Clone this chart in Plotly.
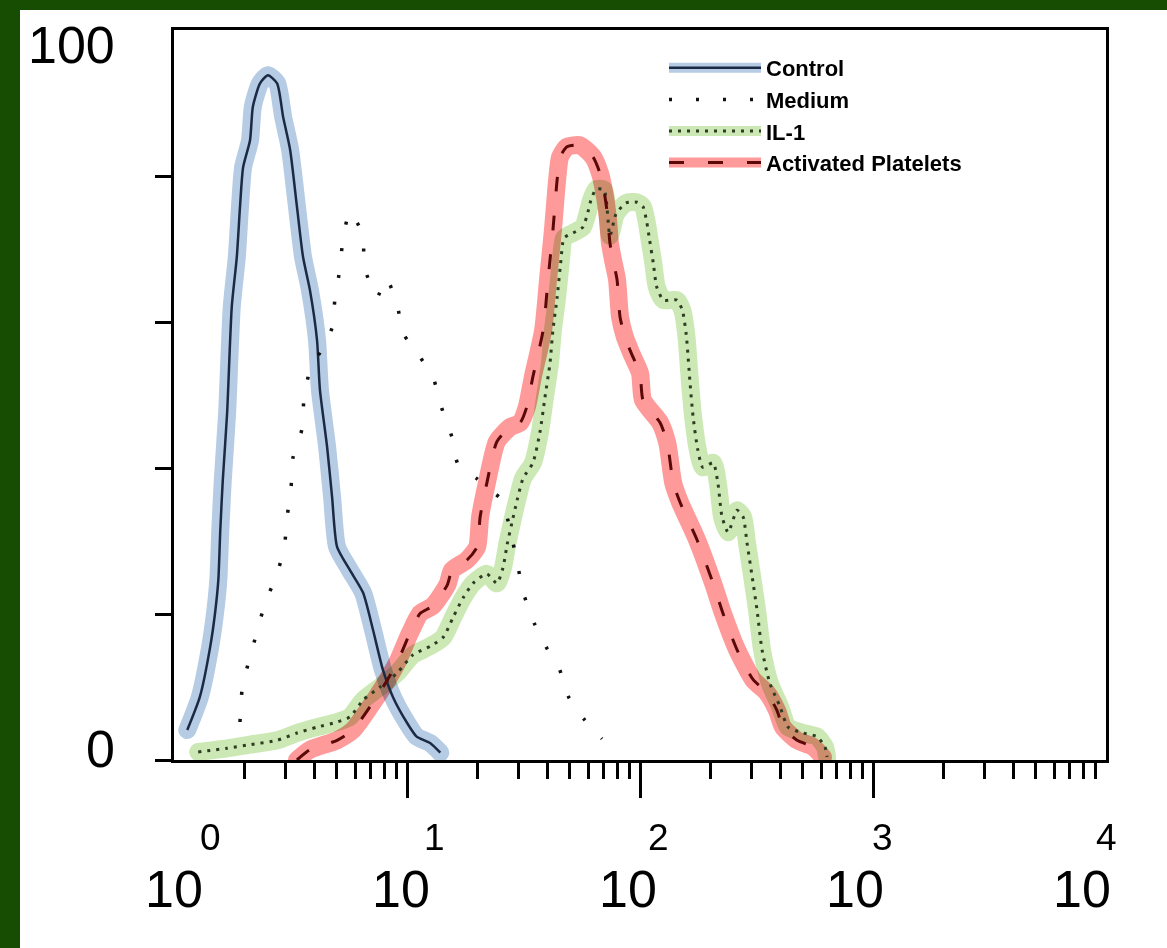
import math
import plotly.graph_objects as go

# Flow cytometry histograms: fluorescence intensity (log) vs. relative cell number (%)
series_names = ["Control", "Medium", "IL-1", "Activated Platelets"]

control_x = [1.14, 1.29, 1.43, 1.50, 1.55, 1.58, 1.62, 1.69, 1.77, 1.86, 1.92, 1.98,
             2.12, 2.18, 2.34, 2.53, 2.77, 2.94, 3.15, 3.37, 3.58, 3.83, 4.11, 4.23,
             4.54, 4.77, 5.01, 5.69, 6.48, 7.15, 7.89, 8.71, 10.0, 11.0, 12.6, 13.9]
control_y = [4.1, 8.6, 15.5, 20.1, 24.7, 31.5, 38.4, 47.5, 62.1, 68.9, 75.8, 81.2,
             84.9, 89.5, 92.7, 93.8, 92.7, 88.1, 83.6, 75.8, 68.9, 64.4, 57.5, 50.7,
             42.9, 36.0, 29.2, 26.0, 22.9, 17.8, 12.3, 8.6, 5.1, 3.2, 2.3, 1.0]

medium_x = [1.92, 1.96, 2.10, 2.27, 2.46, 2.74, 2.97, 3.06, 3.18, 3.24, 3.54, 3.61,
            3.83, 4.32, 4.77, 4.91, 5.16, 5.31, 5.69, 6.48, 6.54, 7.44, 8.13, 9.06,
            9.61, 11.2, 12.9, 14.1, 15.6, 16.6, 20.0, 22.7, 25.6, 27.7, 29.7, 31.5,
            35.1, 39.5, 44.9, 49.6, 57.5, 68.7]
medium_y = [5.2, 9.6, 13.7, 17.5, 21.5, 25.1, 29.0, 33.3, 37.4, 41.4, 45.3, 49.3,
            53.4, 56.3, 59.2, 63.3, 67.4, 71.4, 75.1, 71.8, 67.7, 63.4, 66.0, 62.5,
            58.5, 55.5, 52.5, 48.2, 44.2, 40.4, 38.5, 37.0, 35.6, 31.5, 27.1, 23.0,
            18.8, 15.5, 12.6, 8.5, 5.6, 2.9]

il1_x = [1.27, 1.69, 2.12, 2.77, 3.37, 4.11, 5.01, 5.69, 6.48, 7.66, 9.06, 10.6,
         12.6, 14.3, 15.8, 17.4, 19.2, 22.0, 24.3, 25.8, 26.9, 28.2, 29.7, 31.5,
         34.7, 37.2, 39.1, 41.1, 42.3, 44.1, 45.8, 47.2, 51.6, 56.9, 59.8, 61.6,
         64.8, 70.1, 74.3, 78.9, 87.1, 97.1, 103, 107, 110, 114, 118, 126,
         144, 152, 158, 164, 169, 177, 186, 206, 216, 225, 239, 261,
         277, 288, 303, 318, 334, 361, 399, 432, 501, 575, 622, 635]
il1_y = [1.1, 1.6, 2.1, 2.7, 3.7, 4.5, 5.2, 5.9, 8.2, 10.0, 11.9, 14.4,
         15.6, 16.8, 19.6, 22.2, 24.2, 25.5, 24.2, 26.3, 29.5, 32.5, 35.6, 38.6,
         40.7, 44.9, 49.7, 54.4, 58.9, 63.4, 68.5, 71.5, 72.2, 73.0, 75.1, 76.7,
         78.2, 78.1, 71.8, 74.8, 76.3, 76.4, 75.8, 73.6, 71.2, 68.1, 64.8, 63.0,
         63.0, 61.6, 58.2, 51.6, 47.0, 42.5, 40.1, 40.7, 37.9, 33.3, 31.2, 34.2,
         33.3, 29.7, 25.1, 20.5, 15.1, 10.5, 7.3, 4.5, 3.7, 3.2, 1.8, 0.4]

platelets_x = [3.37, 3.83, 5.01, 5.86, 6.94, 7.89, 9.06, 10.3, 11.4, 12.9, 14.9, 15.6,
               18.1, 20.0, 20.6, 22.0, 24.3, 27.7, 30.6, 32.7, 34.7, 38.4, 40.3, 42.3,
               44.1, 45.4, 48.6, 55.3, 62.9, 67.3, 70.8, 72.9, 74.3, 76.6, 79.7, 82.1,
               86.2, 92.4, 100, 103, 122, 131, 139, 149, 176, 206, 227, 261,
               306, 351, 387, 411, 472, 553, 610]
platelets_y = [0.0, 1.4, 2.7, 4.1, 7.3, 10.0, 13.3, 17.4, 20.1, 21.1, 24.0, 26.0,
               27.4, 29.2, 33.3, 37.9, 43.6, 45.6, 46.2, 48.4, 52.5, 58.9, 65.8, 72.6,
               79.5, 82.6, 84.0, 84.2, 82.6, 80.4, 77.1, 74.0, 70.8, 68.5, 65.8, 60.7,
               57.9, 55.5, 53.0, 49.3, 46.2, 43.4, 37.9, 35.2, 30.1, 24.2, 20.1, 15.1,
               11.0, 9.2, 6.8, 4.5, 2.7, 1.8, 0.4]

x_major_ticks = [10, 100, 1000]
x_minor_ticks = [m * 10 ** d for d in range(4) for m in range(2, 10)]
x_label_values = [1, 10, 100, 1000, 10000]
x_label_base = "10"
x_label_exponents = ["0", "1", "2", "3", "4"]
y_tick_values = [0, 20, 40, 60, 80]
y_label_values = [100, 0]
y_label_texts = ["100", "0"]

W, H = 1167, 948
M_L, M_R, M_T, M_B = 174, 61, 30, 188
FONT = "Liberation Sans, Arial, sans-serif"

highlight_colors = ["#b6cbe4", "rgba(0,0,0,0)", "#cce9b5", "#ff9a9a"]
line_styles = [
    dict(color="#1b2a44", width=2.5, dash="solid"),
    dict(color="#111111", width=3.5, dash="3px,24px"),
    dict(color="#2e3d22", width=3, dash="3px,6px"),
    dict(color="#5a0808", width=3, dash="15px,24px"),
]
all_x = [control_x, medium_x, il1_x, platelets_x]
all_y = [control_y, medium_y, il1_y, platelets_y]

fig = go.Figure()

# wide highlighter strokes underneath
for name, xs, ys, col in zip(series_names, all_x, all_y, highlight_colors):
    fig.add_trace(go.Scatter(
        x=xs, y=ys, mode="lines", name=name, legend="legend",
        line=dict(color=col, width=18, shape="spline", smoothing=0.6),
        hoverinfo="skip"))

# thin curves on top
for name, xs, ys, st in zip(series_names, all_x, all_y, line_styles):
    fig.add_trace(go.Scatter(
        x=xs, y=ys, mode="lines", name=name, legend="legend2",
        line=dict(shape="spline", smoothing=0.6, **st)))


def px_x(p):
    return (p - M_L) / (W - M_L - M_R)


def px_y(p):
    return (H - M_B - p) / (H - M_T - M_B)


shapes = [
    # dark green frame on the top and left edges
    dict(type="rect", xref="paper", yref="paper", x0=px_x(0), x1=px_x(20),
         y0=px_y(H), y1=px_y(0), fillcolor="#174d03", line=dict(width=0), layer="below"),
    dict(type="rect", xref="paper", yref="paper", x0=px_x(0), x1=px_x(W),
         y0=px_y(10), y1=px_y(0), fillcolor="#174d03", line=dict(width=0), layer="below"),
]

# decade labels: "10" with a raised exponent; the printed labels drift slightly
# left of their ticks towards the right end of the axis
annotations = []
for i, (v, e) in enumerate(zip(x_label_values, x_label_exponents)):
    annotations.append(dict(x=math.log10(v), y=px_y(889), xref="x", yref="paper",
                            text=x_label_base, showarrow=False, xanchor="center",
                            yanchor="middle", xshift=-6 * i,
                            font=dict(family=FONT, size=52, color="black")))
    annotations.append(dict(x=math.log10(v), y=px_y(838), xref="x", yref="paper",
                            text=e, showarrow=False, xanchor="center",
                            yanchor="middle", xshift=36 - 9 * i,
                            font=dict(family=FONT, size=37, color="black")))
for v, t in zip(y_label_values, y_label_texts):
    annotations.append(dict(x=0, y=v, xref="paper", yref="y", text=t, showarrow=False,
                            xanchor="right", yanchor="middle", xshift=-57,
                            yshift=-15 if v > 50 else 11,
                            font=dict(family=FONT, size=52, color="black")))

legend_common = dict(x=px_x(664), y=px_y(47), xanchor="left", yanchor="top",
                     bgcolor="rgba(0,0,0,0)", borderwidth=0, itemwidth=92,
                     traceorder="normal", tracegroupgap=0)
legend_font = dict(family="Liberation Sans, Arial, sans-serif", size=22, weight="bold")

fig.update_layout(
    width=W, height=H,
    margin=dict(l=M_L, r=M_R, t=M_T, b=M_B, pad=0),
    paper_bgcolor="white", plot_bgcolor="white",
    showlegend=True,
    legend=dict(font=dict(color="rgba(0,0,0,0)", **legend_font), **legend_common),
    legend2=dict(font=dict(color="black", **legend_font), **legend_common),
    xaxis=dict(type="log", range=[0, 4], showgrid=False, zeroline=False,
               showline=True, mirror=True, linecolor="black", linewidth=3,
               ticks="outside", tickvals=x_major_ticks, ticklen=35, tickwidth=3,
               tickcolor="black", showticklabels=False,
               minor=dict(tickvals=x_minor_ticks, ticks="outside", ticklen=16,
                          tickwidth=3, tickcolor="black", showgrid=False)),
    yaxis=dict(range=[0, 100], showgrid=False, zeroline=False,
               showline=True, mirror=True, linecolor="black", linewidth=3,
               ticks="outside", tickvals=y_tick_values, ticklen=16, tickwidth=3,
               tickcolor="black", showticklabels=False),
    shapes=shapes, annotations=annotations,
)

# highlighter-style (multiply) blending for the wide strokes
post = """
var gd = document.getElementById('{plot_id}');
var tr = gd.querySelectorAll('.scatterlayer .trace');
for (var i = 0; i < 4 && i < tr.length; i++) {
  tr[i].querySelectorAll('path').forEach(function(el) {
    el.style.mixBlendMode = 'multiply';
    el.style.strokeLinecap = 'round';
    el.style.strokeLinejoin = 'round';
  });
}
"""
fig.write_html("out.html", post_script=post)
